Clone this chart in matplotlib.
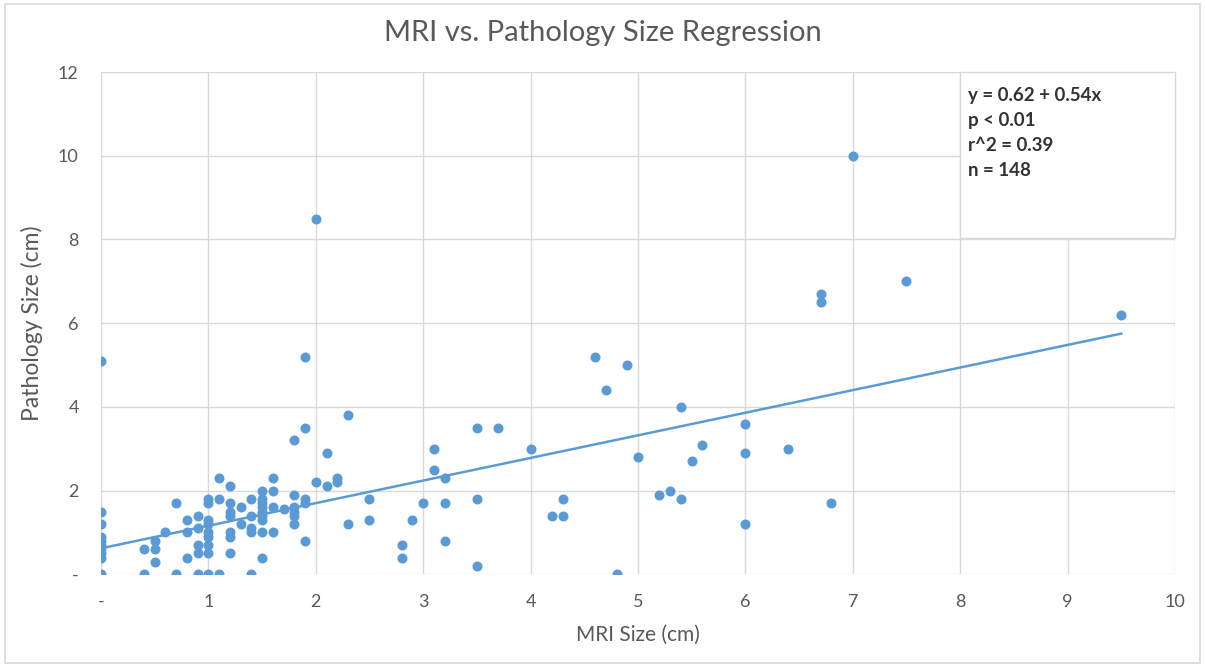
import numpy as np
import matplotlib
matplotlib.use('Agg')
from matplotlib import pyplot as plt
from matplotlib.patches import Rectangle

plt.rcParams['font.family'] = ['Lato', 'DejaVu Sans']

#%%# data read off the chart #%%#
mri_size = [0, 0, 0, 0, 0, 0, 0, 0, 0, 0,
            0.4, 0.4, 0.5, 0.5, 0.5, 0.6, 0.7, 0.7, 0.8, 0.8, 0.8,
            0.9, 0.9, 0.9, 0.9, 0.9,
            1.0, 1.0, 1.0, 1.0, 1.0, 1.0, 1.0, 1.0, 1.0,
            1.1, 1.1, 1.1,
            1.2, 1.2, 1.2, 1.2, 1.2, 1.2, 1.2,
            1.3, 1.3,
            1.4, 1.4, 1.4, 1.4, 1.4,
            1.5, 1.5, 1.5, 1.5, 1.5, 1.5, 1.5, 1.5, 1.5,
            1.6, 1.6, 1.6, 1.6, 1.7,
            1.8, 1.8, 1.8, 1.8, 1.8, 1.8,
            1.9, 1.9, 1.9, 1.9, 1.9,
            2.0, 2.0, 2.1, 2.1, 2.2, 2.2, 2.3, 2.3, 2.5, 2.5,
            2.8, 2.8, 2.9, 3.0, 3.1, 3.1, 3.2, 3.2, 3.2,
            3.5, 3.5, 3.5, 3.7, 4.0, 4.2, 4.3, 4.3,
            4.6, 4.7, 4.8, 4.9, 5.0, 5.2, 5.3, 5.4, 5.4, 5.5, 5.6,
            6.0, 6.0, 6.0, 6.4, 6.7, 6.7, 6.8, 7.0, 7.5, 9.5]
path_size = [5.1, 1.5, 1.2, 0.9, 0.8, 0.7, 0.6, 0.5, 0.4, 0.0,
             0.6, 0.0, 0.8, 0.6, 0.3, 1.0, 1.7, 0.0, 1.3, 1.0, 0.4,
             1.4, 1.1, 0.7, 0.5, 0.0,
             1.8, 1.7, 1.3, 1.2, 1.0, 0.9, 0.7, 0.5, 0.0,
             2.3, 1.8, 0.0,
             2.1, 1.7, 1.5, 1.4, 1.0, 0.9, 0.5,
             1.6, 1.2,
             1.8, 1.4, 1.1, 1.0, 0.0,
             2.0, 1.8, 1.7, 1.6, 1.5, 1.4, 1.3, 1.0, 0.4,
             2.3, 2.0, 1.6, 1.0, 1.55,
             3.2, 1.9, 1.6, 1.5, 1.4, 1.2,
             5.2, 3.5, 1.8, 1.7, 0.8,
             8.5, 2.2, 2.9, 2.1, 2.3, 2.2, 3.8, 1.2, 1.8, 1.3,
             0.7, 0.4, 1.3, 1.7, 3.0, 2.5, 2.3, 1.7, 0.8,
             3.5, 1.8, 0.2, 3.5, 3.0, 1.4, 1.8, 1.4,
             5.2, 4.4, 0.0, 5.0, 2.8, 1.9, 2.0, 4.0, 1.8, 2.7, 3.1,
             3.6, 2.9, 1.2, 3.0, 6.7, 6.5, 1.7, 10.0, 7.0, 6.2]

intercept = 0.62
slope = 0.54
stats_lines = ['y = 0.62 + 0.54x', 'p < 0.01', 'r^2 = 0.39', 'n = 148']

x_ticks = [0, 1, 2, 3, 4, 5, 6, 7, 8, 9, 10]
x_ticklabels = ['-', '1', '2', '3', '4', '5', '6', '7', '8', '9', '10']
y_ticks = [0, 2, 4, 6, 8, 10, 12]
y_ticklabels = ['-', '2', '4', '6', '8', '10', '12']

#%%# plot #%%#
blue = '#5B9BD5'
gray_txt = '#595959'
grid_col = '#D9D9D9'

fig = plt.figure(figsize=(12.05, 6.67), dpi=100)
fig.patches.append(Rectangle((0.004, 0.006), 0.992, 0.988, transform=fig.transFigure,
                             fill=False, edgecolor=grid_col, linewidth=1.2))
ax = fig.add_axes([0.0838, 0.139, 0.8913, 0.753])

ax.scatter(mri_size, path_size, s=52, color=blue, zorder=3, linewidths=0)
xFit = np.array([min(mri_size), max(mri_size)])
ax.plot(xFit, intercept + slope*xFit, color=blue, linewidth=1.8, zorder=2)

ax.set_xlim(0, 10)
ax.set_ylim(0, 12)
ax.set_xticks(x_ticks)
ax.set_xticklabels(x_ticklabels)
ax.set_yticks(y_ticks)
ax.set_yticklabels(y_ticklabels)
ax.tick_params(length=0, labelsize=13, labelcolor=gray_txt)
ax.tick_params(axis='x', pad=14)
ax.tick_params(axis='y', pad=16)
ax.grid(True, color=grid_col, linewidth=1)
ax.set_axisbelow(True)
for sp in ax.spines.values(): sp.set_visible(False)

ax.set_xlabel('MRI Size (cm)', fontsize=15, color=gray_txt)
ax.set_ylabel('Pathology Size (cm)', fontsize=16.5, color=gray_txt)
ax.xaxis.set_label_coords(0.5, -0.1)
ax.yaxis.set_label_coords(-0.054, 0.5)
fig.text(0.5, 0.951, 'MRI vs. Pathology Size Regression', ha='center', va='center',
         fontsize=21, color=gray_txt)

# stats box
ax.add_patch(Rectangle((8, 8.03), 2, 3.97, facecolor='white', edgecolor=grid_col,
                       linewidth=1, zorder=1, clip_on=False))
for i, line in enumerate(stats_lines):
    ax.text(8.07, 11.45 - 0.6*i, line, fontsize=13.5, fontweight='bold', color='#333333',
            va='center', ha='left', zorder=4)

fig.savefig('out.png', dpi=100)
